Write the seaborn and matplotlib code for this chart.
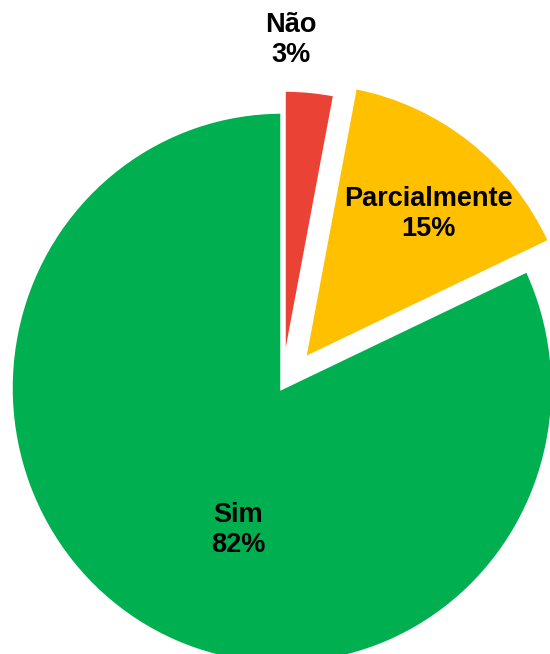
import matplotlib
matplotlib.use("Agg")
import matplotlib.pyplot as plt
import seaborn as sns

# Data
categories = ["Não", "Parcialmente", "Sim"]
values = [3, 15, 82]
colors = ["#EA4335", "#FFC000", "#00B050"]
explode = [0.08, 0.135, 0.0]

# Label anchor points (data units, pie radius = 1)
label_x = [0.033, 0.541, -0.162]
label_y = [1.261, 0.630, -0.514]

sns.set_theme(style="white")
plt.rcParams['font.family'] = ['Liberation Sans', 'DejaVu Sans']

fig = plt.figure(figsize=(5.5, 6.54), dpi=100)
ax = fig.add_axes([0, 0, 1, 1])

ax.pie(values, colors=colors, explode=explode, startangle=90,
       counterclock=False, radius=1.0,
       wedgeprops=dict(edgecolor="white", linewidth=2.5))

total = sum(values)
for name, v, x, y in zip(categories, values, label_x, label_y):
    ax.text(x, y, f"{name}\n{round(100 * v / total)}%", ha="center", va="center",
            fontsize=19.5, fontweight="bold", color="black", linespacing=1.2)

# slightly taller than wide, like the source chart
ax.set_aspect("auto")
ax.set_xlim(-1.0406, 0.9889)
ax.set_ylim(-0.9638, 1.4058)
ax.axis("off")

plt.savefig("out.png", dpi=100)
plt.close()
